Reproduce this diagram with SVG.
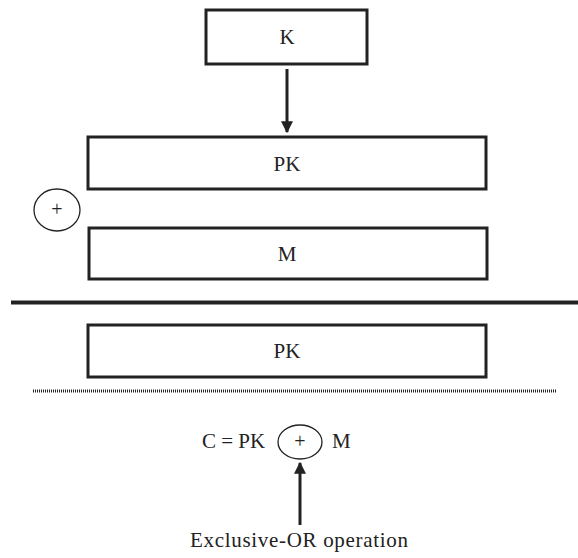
<svg xmlns="http://www.w3.org/2000/svg" width="578" height="558" viewBox="0 0 578 558">
<defs>
<style>
.box{fill:#fff;stroke:#222;stroke-width:3}
.lbl{font-family:"Liberation Serif","DejaVu Serif",serif;font-size:21px;fill:#222}
.op{fill:none;stroke:#222;stroke-width:1.3}
.plus{font-family:"Liberation Serif","DejaVu Serif",serif;font-size:20px;fill:#222}
.arr{stroke:#222;stroke-width:3;fill:none}
</style>
<marker id="ah" viewBox="0 0 10 10" refX="9" refY="5" markerWidth="4" markerHeight="4" orient="auto" markerUnits="strokeWidth">
<path d="M0,0 L10,5 L0,10 z" fill="#222"/>
</marker>
</defs>
<rect width="578" height="558" fill="#fff"/>
<g id="node-K"><rect class="box" x="206" y="10" width="161" height="54"/><text class="lbl" x="287" y="44" text-anchor="middle">K</text></g>
<g id="node-PK1"><rect class="box" x="88" y="137" width="398" height="52"/><text class="lbl" x="287" y="171" text-anchor="middle">PK</text></g>
<g id="node-xor"><ellipse class="op" cx="57" cy="210" rx="23" ry="21"/><text class="plus" x="57" y="216" text-anchor="middle">+</text></g>
<g id="node-M"><rect class="box" x="89" y="228" width="398" height="51"/><text class="lbl" x="287" y="261" text-anchor="middle">M</text></g>
<g id="rule"><line x1="11" y1="302.5" x2="578" y2="302.5" stroke="#222" stroke-width="4"/></g>
<g id="node-PK2"><rect class="box" x="88" y="325" width="398" height="52"/><text class="lbl" x="287" y="358" text-anchor="middle">PK</text></g>
<g id="dotted"><line x1="33" y1="391" x2="556" y2="391" stroke="#222" stroke-width="3" stroke-dasharray="1 1"/></g>
<g id="node-eq"><text class="lbl" x="202" y="448">C = PK</text><ellipse class="op" cx="300" cy="442" rx="22" ry="17"/><text class="plus" x="300" y="448" text-anchor="middle">+</text><text class="lbl" x="332" y="448">M</text></g>
<g id="node-label"><text class="lbl" x="299" y="547" text-anchor="middle" font-size="22" textLength="218" lengthAdjust="spacing">Exclusive-OR operation</text></g>
<g id="connectors">
<line class="arr" x1="287" y1="69" x2="287" y2="132" marker-end="url(#ah)"/>
<line class="arr" x1="300" y1="525" x2="300" y2="463" marker-end="url(#ah)"/>
</g>
</svg>
